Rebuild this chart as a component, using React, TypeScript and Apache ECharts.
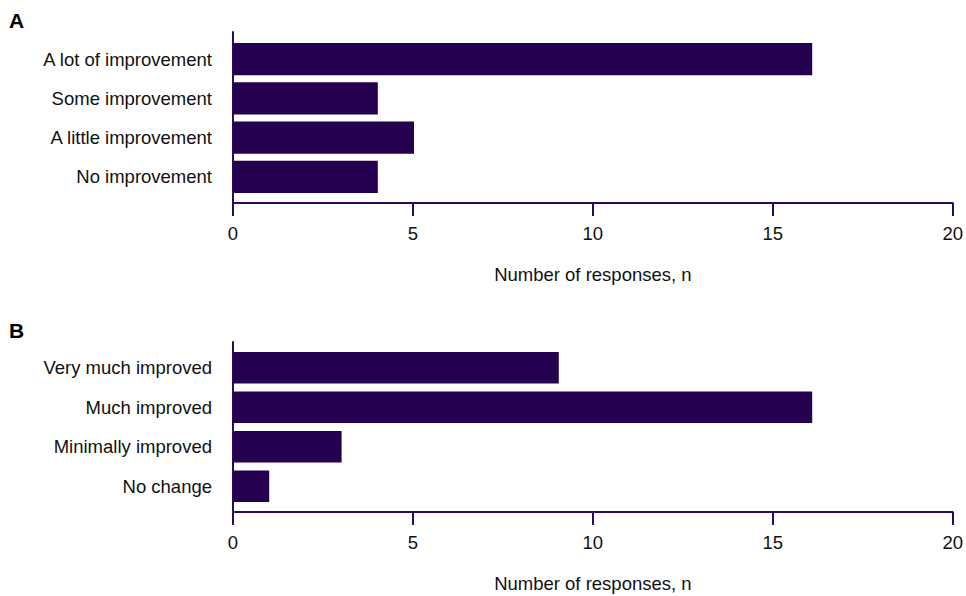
import React, { useEffect, useRef } from "react";
import * as echarts from "echarts";

const catsA = ["A lot of improvement", "Some improvement", "A little improvement", "No improvement"];
const valsA = [16, 4, 5, 4];
const catsB = ["Very much improved", "Much improved", "Minimally improved", "No change"];
const valsB = [9, 16, 3, 1];
const xMin = 0;
const xMax = 20;
const xStep = 5;
const axisTitle = "Number of responses, n";
const panelLabels = ["A", "B"];

const FONT = "Arial, 'Liberation Sans', sans-serif";
const FS = 18.5;
const BAR = "#24004f";
const AXIS = "#2a0a5c";

export default function App() {
  const ref = useRef<HTMLDivElement>(null);
  useEffect(() => {
    document.body.style.margin = "0";
    const chart = echarts.init(ref.current!, undefined, { renderer: "svg" });
    const axisGrid = (top: number, height: number) => ({ left: 233, right: 9, top, height });
    const grids = [
      axisGrid(32, 171),
      axisGrid(39.5, 157),
      axisGrid(342, 170),
      axisGrid(348, 158),
    ];
    const visibleX = (gridIndex: number) => ({
      type: "value",
      gridIndex,
      min: xMin,
      max: xMax,
      interval: xStep,
      name: axisTitle,
      nameLocation: "middle",
      nameGap: 62,
      nameTextStyle: { fontFamily: FONT, fontSize: FS, color: "#111" },
      axisLine: { show: true, lineStyle: { color: AXIS, width: 2 } },
      axisTick: { show: true, length: 13, lineStyle: { color: AXIS, width: 2 } },
      axisLabel: { fontFamily: FONT, fontSize: FS, color: "#111", margin: 21 },
      splitLine: { show: false },
    });
    const hiddenX = (gridIndex: number) => ({
      type: "value",
      gridIndex,
      min: xMin,
      max: xMax,
      show: false,
    });
    const lineY = (gridIndex: number) => ({
      type: "value",
      gridIndex,
      min: 0,
      max: 1,
      axisLine: { show: true, onZero: false, lineStyle: { color: AXIS, width: 2 } },
      axisTick: { show: false },
      axisLabel: { show: false },
      splitLine: { show: false },
    });
    const catY = (gridIndex: number, data: string[]) => ({
      type: "category",
      gridIndex,
      inverse: true,
      data,
      axisLine: { show: false },
      axisTick: { show: false },
      axisLabel: { fontFamily: FONT, fontSize: FS, color: "#111", margin: 21 },
    });
    chart.setOption({
      animation: false,
      backgroundColor: "#ffffff",
      grid: grids,
      xAxis: [visibleX(0), hiddenX(1), visibleX(2), hiddenX(3)],
      yAxis: [lineY(0), catY(1, catsA), lineY(2), catY(3, catsB)],
      series: [
        {
          type: "bar",
          xAxisIndex: 1,
          yAxisIndex: 1,
          data: valsA,
          barCategoryGap: "18%",
          itemStyle: { color: BAR },
        },
        {
          type: "bar",
          xAxisIndex: 3,
          yAxisIndex: 3,
          data: valsB,
          barCategoryGap: "20%",
          itemStyle: { color: BAR },
        },
      ],
      graphic: [
        {
          type: "text",
          left: 9,
          top: 10,
          style: { text: panelLabels[0], font: `bold 21px ${FONT}`, fill: "#000" },
        },
        {
          type: "text",
          left: 9,
          top: 320,
          style: { text: panelLabels[1], font: `bold 21px ${FONT}`, fill: "#000" },
        },
      ],
    });
    return () => chart.dispose();
  }, []);
  return <div ref={ref} style={{ width: 966, height: 596 }} />;
}
